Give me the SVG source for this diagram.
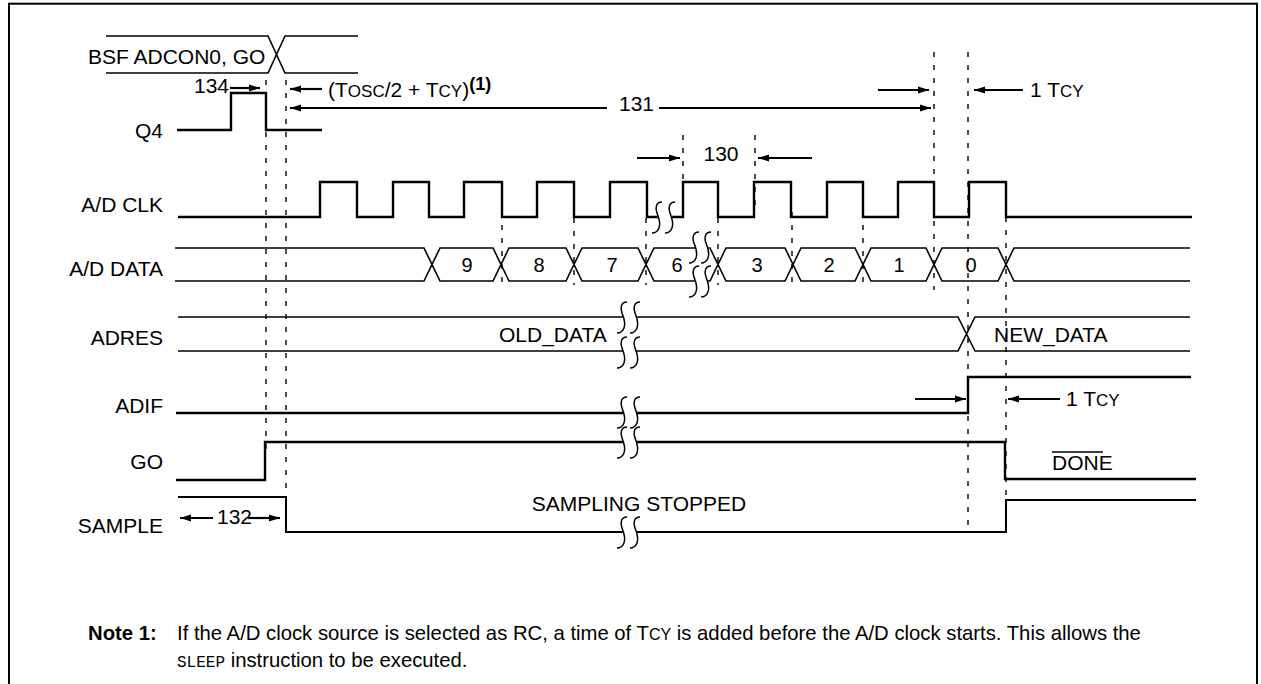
<svg xmlns="http://www.w3.org/2000/svg" xmlns:xlink="http://www.w3.org/1999/xlink" width="1261" height="684" viewBox="0 0 1261 684">
<style>
text{font-family:"Liberation Sans",Arial,sans-serif;fill:#000}
.lbl{font-size:21px;text-anchor:end}
.t{font-size:21px}
.d{font-size:20px;text-anchor:middle}
.sc{font-size:17px}
.sig{fill:none;stroke:#000;stroke-width:2.4}
.bus{fill:none;stroke:#000;stroke-width:1.6}
.dash{fill:none;stroke:#000;stroke-width:1.4;stroke-dasharray:5 8}
.arr{fill:none;stroke:#000;stroke-width:2.2;marker-end:url(#ah)}
.sq{fill:none;stroke:#000;stroke-width:1.5}
.note{font-size:20.3px}
</style>
<defs>
<marker id="ah" markerUnits="userSpaceOnUse" markerWidth="12" markerHeight="8" refX="11" refY="4" orient="auto">
<path d="M0,0.5 L11,4 L0,7.5 z" fill="#000"/>
</marker>
<path id="sq" d="M10,0 C4,0 3,6 5,11 C7,16 9,21 7,26 C5,31 2,31 0,31"/>
</defs>
<rect x="9" y="3.7" width="1248" height="720" fill="none" stroke="#000" stroke-width="2"/>

<g id="bsf">
<path class="bus" d="M106,36 H268 L285,73 H358 M106,73 H268 L285,36 H358"/>
<text class="t" x="88" y="64">BSF ADCON0, GO</text>
</g>

<g id="q4">
<text class="lbl" x="163" y="138">Q4</text>
<path class="sig" d="M177,130 H231 V93 H266 V130 H322"/>
</g>

<g id="adclk">
<text class="lbl" x="163" y="212">A/D CLK</text>
<path class="sig" d="M178,217 H320 V182 H357 V217 H393 V182 H429 V217 H464 V182 H502 V217 H537 V182 H574 V217 H610 V182 H647 V217 H659 M672,217 H683 V182 H718 V217 H754 V182 H791 V217 H827 V182 H863 V217 H898 V182 H934 V217 H969 V182 H1006 V217 H1192"/>
<g class="sq"><use xlink:href="#sq" x="652" y="202"/><use xlink:href="#sq" x="665" y="202"/></g>
</g>

<g id="addata">
<text class="lbl" x="163" y="276">A/D DATA</text>
<path class="bus" d="M175,248 H424 L440,281 H493 L509,248 H566 L582,281 H638 L654,248 H695 M707,248 H710 L726,281 H785 L801,248 H855 L871,281 H926 L942,248 H998 L1014,281 H1190
M175,281 H424 L440,248 H493 L509,281 H566 L582,248 H638 L654,281 H695 M707,281 H710 L726,248 H785 L801,281 H855 L871,248 H926 L942,281 H998 L1014,248 H1190"/>
<g class="sq"><use xlink:href="#sq" x="689" y="232"/><use xlink:href="#sq" x="701" y="232"/><use xlink:href="#sq" x="689" y="266"/><use xlink:href="#sq" x="701" y="266"/></g>
<text class="d" x="467" y="272">9</text>
<text class="d" x="539" y="272">8</text>
<text class="d" x="612" y="272">7</text>
<text class="d" x="677" y="272">6</text>
<text class="d" x="757" y="272">3</text>
<text class="d" x="829" y="272">2</text>
<text class="d" x="899" y="272">1</text>
<text class="d" x="971" y="272">0</text>
</g>

<g id="adres">
<text class="lbl" x="163" y="345">ADRES</text>
<path class="bus" d="M178,317 H623 M636,317 H958 L975,351 H1190 M178,351 H623 M636,351 H958 L975,317 H1190"/>
<g class="sq"><use xlink:href="#sq" x="617" y="302"/><use xlink:href="#sq" x="630" y="302"/><use xlink:href="#sq" x="617" y="337"/><use xlink:href="#sq" x="630" y="337"/></g>
<text class="t" x="499" y="342">OLD_DATA</text>
<text class="t" x="994" y="342">NEW_DATA</text>
</g>

<g id="adif">
<text class="lbl" x="163" y="413">ADIF</text>
<path class="sig" d="M176,413 H623 M636,413 H968 V377 H1191"/>
<g class="sq"><use xlink:href="#sq" x="617" y="397"/><use xlink:href="#sq" x="630" y="397"/></g>
</g>

<g id="go">
<text class="lbl" x="163" y="469">GO</text>
<path class="sig" d="M176,480 H265 V442 H623 M636,442 H1005 V479 H1196"/>
<g class="sq"><use xlink:href="#sq" x="617" y="427"/><use xlink:href="#sq" x="630" y="427"/></g>
<text class="t" x="1052" y="470">DONE</text>
<line x1="1052" y1="452" x2="1103" y2="452" stroke="#000" stroke-width="1.5"/>
</g>

<g id="sample">
<text class="lbl" x="163" y="533">SAMPLE</text>
<path class="sig" d="M178,497 H286 V532 H623 M636,532 H1006 V500 H1196" style="stroke-width:2"/>
<g class="sq"><use xlink:href="#sq" x="617" y="517"/><use xlink:href="#sq" x="630" y="517"/></g>
<text class="t" x="639" y="511" text-anchor="middle">SAMPLING STOPPED</text>
</g>

<g id="connectors">
<g class="dash">
<line x1="266" y1="80" x2="266" y2="452"/>
<line x1="286" y1="80" x2="286" y2="497"/>
<line x1="502" y1="212" x2="502" y2="285"/>
<line x1="574" y1="218" x2="574" y2="285"/>
<line x1="646" y1="218" x2="646" y2="285"/>
<line x1="683" y1="135" x2="683" y2="182"/>
<line x1="755" y1="135" x2="755" y2="212"/>
<line x1="718" y1="218" x2="718" y2="285"/>
<line x1="792" y1="212" x2="792" y2="285"/>
<line x1="863" y1="212" x2="863" y2="290"/>
<line x1="934" y1="52" x2="934" y2="290"/>
<line x1="968" y1="52" x2="968" y2="530"/>
<line x1="1006" y1="217" x2="1006" y2="500"/>
</g>
<line class="arr" x1="230" y1="88" x2="260" y2="88"/>
<line class="arr" x1="322" y1="89" x2="290" y2="89"/>
<line class="arr" x1="607" y1="108" x2="290" y2="108"/>
<line class="arr" x1="659" y1="108" x2="931" y2="108"/>
<line class="arr" x1="878" y1="90" x2="929" y2="90"/>
<line class="arr" x1="1023" y1="90" x2="974" y2="90"/>
<line class="arr" x1="637" y1="158" x2="680" y2="158"/>
<line class="arr" x1="812" y1="158" x2="758" y2="158"/>
<line class="arr" x1="915" y1="399" x2="966" y2="399"/>
<line class="arr" x1="1060" y1="399" x2="1008" y2="399"/>
<line class="arr" x1="213" y1="518" x2="180" y2="518"/>
<line class="arr" x1="248" y1="518" x2="280" y2="518"/>
<text class="t" x="194" y="93">134</text>
<text class="t" x="328" y="97">(T<tspan class="sc">OSC</tspan>/2 + T<tspan class="sc">CY</tspan>)<tspan font-size="18" font-weight="bold" dy="-7">(1)</tspan></text>
<text class="t" x="619" y="111">131</text>
<text class="t" x="1030" y="97">1 T<tspan class="sc">CY</tspan></text>
<text class="t" x="721" y="161" text-anchor="middle">130</text>
<text class="t" x="1066" y="406">1 T<tspan class="sc">CY</tspan></text>
<text class="t" x="217" y="524">132</text>
</g>

<g id="note">
<text class="note" x="88" y="640" font-weight="bold">Note 1:</text>
<text class="note" x="177" y="640">If the A/D clock source is selected as RC, a time of T<tspan font-size="16">CY</tspan> is added before the A/D clock starts. This allows the</text>
<text class="note" x="177" y="667"><tspan font-family="Liberation Mono, monospace" font-size="16">SLEEP</tspan> instruction to be executed.</text>
</g>
</svg>
